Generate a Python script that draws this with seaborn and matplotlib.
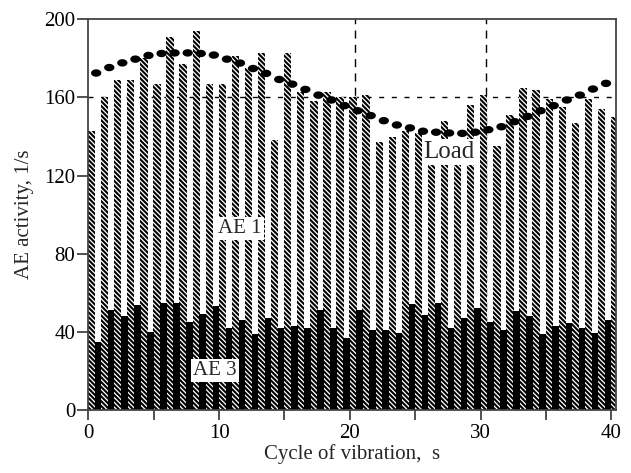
import numpy as np
import pandas as pd
import matplotlib
matplotlib.use("Agg")
import matplotlib.pyplot as plt
from matplotlib.path import Path
import seaborn as sns

# ---- data ----
ae1 = [143, 160, 169, 169, 180, 167, 191, 177, 194, 167, 167, 181, 175, 183, 138,
       183, 163, 158, 163, 160, 160, 161, 137, 140, 143, 142, 130, 148, 130, 156,
       161, 135, 151, 165, 164, 159, 155, 147, 159, 154, 150]
ae3 = [35, 51, 48, 54, 40, 55, 55, 45, 49, 53, 42, 46, 39, 47, 42, 43, 42, 51, 42, 37,
       51, 41, 41, 39.5, 54.5, 48.5, 55, 42, 47, 52, 45, 41, 50.5, 48, 39, 43, 44.5,
       42, 39.5, 46]
load = [172.5, 175.3, 177.7, 179.6, 181.5, 182.5, 182.8, 182.8, 182.5, 181.7, 179.6,
        177.6, 174.8, 172.3, 169.2, 166.8, 164.1, 161.2, 158.7, 155.8, 153.2, 150.7,
        148.1, 145.9, 144.4, 142.7, 142.2, 141.8, 141.6, 142.2, 143.5, 145.0, 147.6,
        150.3, 153.2, 155.8, 158.7, 161.2, 164.3, 167.2]
cycles_ae1 = np.arange(len(ae1))
cycles = np.arange(len(ae3))
xticks = [0, 10, 20, 30, 40]
yticks = [0, 40, 80, 120, 160, 200]

sns.set_style("ticks")
plt.rcParams['font.family'] = ['Liberation Serif', 'DejaVu Serif']
plt.rcParams['hatch.linewidth'] = 1.5
plt.rcParams['hatch.color'] = 'black'

fig = plt.figure(figsize=(6.31, 4.73), dpi=100)
ax = fig.add_axes([0.140, 0.1332, 0.837, 0.826])

df1 = pd.DataFrame({"x": cycles_ae1 + 0.25, "y": ae1})
df3 = pd.DataFrame({"x": cycles + 0.75, "y": ae3})
dfl = pd.DataFrame({"x": cycles + 0.6, "y": load})

# reference dashed lines (behind bars)
ax.axhline(160, color='black', lw=1.0, dashes=(3.6, 5.5), zorder=0.5)
for xv in (20.4, 30.4):
    ax.axvline(xv, color='black', lw=1.0, dashes=(5.8, 4.5), zorder=0.5)

sns.barplot(data=df1, x="x", y="y", native_scale=True, width=0.56, color='white',
            saturation=1, errorbar=None, edgecolor='black', linewidth=0,
            hatch='\\' * 7, ax=ax, zorder=2)
sns.barplot(data=df3, x="x", y="y", native_scale=True, width=0.5, color='black',
            saturation=1, errorbar=None, linewidth=0, ax=ax, zorder=2)

# elliptical dot marker
t = np.linspace(0, 2 * np.pi, 40)
ell = Path(np.column_stack([np.cos(t), 0.72 * np.sin(t)]), closed=True)
sns.scatterplot(data=dfl, x="x", y="y", marker=ell, s=55, color='black',
                edgecolor='none', linewidth=0, ax=ax, zorder=4)

box = dict(facecolor='white', edgecolor='none', pad=1.5)
ax.text(11.6, 93, "AE 1", fontsize=15, ha='center', va='center', bbox=box, zorder=5)
ax.text(9.7, 20.4, "AE 3", fontsize=15, ha='center', va='center', bbox=box, zorder=5)
ax.text(27.6, 132.3, "Load", fontsize=18, ha='center', va='center', bbox=box, zorder=5)

ax.set_xlim(0, 40.4)
ax.set_ylim(0, 200)
ax.set_xticks(np.arange(0, 41, 5))
ax.set_xticklabels([str(v) if v in xticks else '' for v in range(0, 41, 5)])
ax.set_yticks(yticks)
ax.set_yticklabels([str(v) for v in yticks])
ax.tick_params(axis='both', direction='out', labelsize=15, colors='#333333',
               labelcolor='black', width=1.2)
ax.tick_params(axis='y', length=8, pad=1.5)
ax.tick_params(axis='x', length=7, pad=3)
for s in ax.spines.values():
    s.set_visible(True)
    s.set_color('#444444')
    s.set_linewidth(1.3)
    s.set_zorder(6)

ax.set_xlabel("Cycle of vibration,  s", fontsize=15, labelpad=1)
ax.set_ylabel("AE activity, 1/s", fontsize=15, labelpad=7)
ax.set_axisbelow(False)

fig.savefig("out.png", dpi=100)
